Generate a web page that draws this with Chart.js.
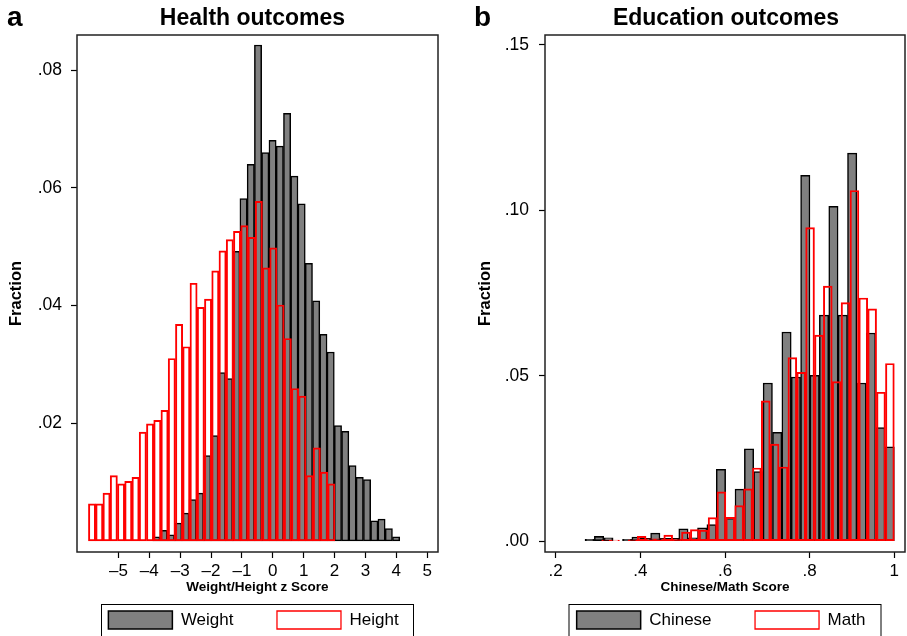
<!DOCTYPE html>
<html lang="pt-BR">
<head>
<meta charset="utf-8">
<title>Health outcomes / Education outcomes</title>
<script src="https://cdn.jsdelivr.net/npm/chart.js@4.4.1/dist/chart.umd.min.js"></script>
<style>
  html, body { margin: 0; padding: 0; background: #fff; width: 907px; height: 636px; overflow: hidden; }
  .painel { position: absolute; top: 0; height: 636px; }
  .painel canvas { display: block; }
  #painel-a { left: 0; width: 453px; }
  #painel-b { left: 453px; width: 454px; }
  .letra { position: absolute; top: 3px; font: bold 28px "Liberation Sans", Arial, sans-serif; line-height: 28px; color: #000; }
</style>
</head>
<body>
<div class="painel" id="painel-a"><canvas id="chartA"></canvas></div>
<div class="painel" id="painel-b"><canvas id="chartB"></canvas></div>
<div class="letra" style="left:7px">a</div>
<div class="letra" style="left:474px">b</div>

<script>
/* ===========================================================
   1. DADOS (centro de cada classe do histograma + fração)
   2. PLUGIN: moldura, título e legenda alinhados à área do gráfico
   3. GRÁFICO a (Health outcomes)
   4. GRÁFICO b (Education outcomes)
   =========================================================== */

/* ===== 1. DADOS ===== */
// Painel a: escore z de peso (cinza) e altura (vermelho)
const weightBins = [-3.772, -3.537, -3.301, -3.066, -2.831, -2.596, -2.360, -2.125, -1.890, -1.654,
                    -1.419, -1.184, -0.948, -0.713, -0.478, -0.243, -0.007, 0.228, 0.463, 0.699,
                    0.934, 1.169, 1.405, 1.640, 1.875, 2.111, 2.346, 2.581, 2.816, 3.052,
                    3.287, 3.522, 3.758, 3.993];
const weightFrac = [0.0007, 0.0018, 0.0010, 0.0030, 0.0047, 0.0070, 0.0081, 0.0145, 0.0179, 0.0286,
                    0.0276, 0.0492, 0.0582, 0.0640, 0.0843, 0.0660, 0.0681, 0.0671, 0.0727, 0.0620,
                    0.0573, 0.0472, 0.0408, 0.0351, 0.0321, 0.0196, 0.0186, 0.0128, 0.0108, 0.0104,
                    0.0034, 0.0037, 0.0021, 0.0007];
const heightBins = [-5.853, -5.618, -5.383, -5.148, -4.913, -4.679, -4.444, -4.209, -3.974, -3.739,
                    -3.505, -3.270, -3.035, -2.800, -2.565, -2.331, -2.096, -1.861, -1.626, -1.391,
                    -1.157, -0.922, -0.687, -0.452, -0.217, 0.017, 0.252, 0.487, 0.722, 0.957,
                    1.191, 1.426, 1.661, 1.896];
const heightFrac = [0.0063, 0.0063, 0.0081, 0.0111, 0.0097, 0.0101, 0.0108, 0.0185, 0.0199, 0.0205,
                    0.0222, 0.0310, 0.0368, 0.0330, 0.0438, 0.0397, 0.0411, 0.0459, 0.0493, 0.0512,
                    0.0526, 0.0536, 0.0516, 0.0577, 0.0464, 0.0498, 0.0401, 0.0344, 0.0259, 0.0246,
                    0.0111, 0.0158, 0.0117, 0.0097];
const zTicks = [-5, -4, -3, -2, -1, 0, 1, 2, 3, 4, 5];
const fracTicksA = [0.02, 0.04, 0.06, 0.08];

// Painel b: nota de chinês (cinza) e matemática (vermelho)
const chineseBins = [0.2803, 0.3024, 0.3246, 0.3467, 0.3689, 0.3910, 0.4132, 0.4353, 0.4575, 0.4796,
                     0.5018, 0.5239, 0.5461, 0.5682, 0.5904, 0.6125, 0.6347, 0.6568, 0.6790, 0.7011,
                     0.7233, 0.7454, 0.7676, 0.7897, 0.8119, 0.8340, 0.8562, 0.8783, 0.9005, 0.9226,
                     0.9448, 0.9669, 0.9891];
const chineseFrac = [0.0005, 0.0014, 0.0010, 0, 0.0005, 0.0012, 0.0008, 0.0024, 0.0008, 0.0008,
                     0.0037, 0.0010, 0.0040, 0.0050, 0.0217, 0.0069, 0.0157, 0.0279, 0.0210, 0.0478,
                     0.0329, 0.0632, 0.0496, 0.1106, 0.0501, 0.0683, 0.1012, 0.0683, 0.1173, 0.0478,
                     0.0629, 0.0343, 0.0285];
const mathBins = [0.3192, 0.3401, 0.3611, 0.3820, 0.4030, 0.4239, 0.4449, 0.4658, 0.4868, 0.5077,
                  0.5287, 0.5496, 0.5706, 0.5915, 0.6125, 0.6334, 0.6544, 0.6753, 0.6963, 0.7172,
                  0.7382, 0.7591, 0.7801, 0.8010, 0.8220, 0.8429, 0.8639, 0.8848, 0.9058, 0.9267,
                  0.9477, 0.9686, 0.9896];
const mathFrac = [0.0003, 0.0003, 0, 0.0004, 0.0014, 0.0007, 0.0007, 0.0018, 0.0006, 0.0027,
                  0.0035, 0.0033, 0.0071, 0.0149, 0.0072, 0.0107, 0.0158, 0.0221, 0.0424, 0.0293,
                  0.0224, 0.0555, 0.0510, 0.0948, 0.0623, 0.0771, 0.0482, 0.0721, 0.1060, 0.0735,
                  0.0702, 0.0450, 0.0537];
const scoreTicks = [0.2, 0.4, 0.6, 0.8, 1];
const fracTicksB = [0, 0.05, 0.10, 0.15];

Chart.defaults.font.family = '"Liberation Sans", Arial, Helvetica, sans-serif';
Chart.defaults.color = '#000';
Chart.defaults.animation = false;

function pares(xs, ys) {
    return xs.map((x, i) => ({ x: x, y: ys[i] }));
}
// .02 / .10 — sem o zero à esquerda, como no Stata
function fmtFrac(v) {
    return v.toFixed(2).replace(/^0/, '');
}

/* ===== 2. PLUGIN ===== */
const molduraPlugin = {
    id: 'moldura',
    afterLayout(chart, args, opts) {
        const ca = chart.chartArea;
        const dx = opts.deslocTitulo || 0;
        if (chart.titleBlock) {
            chart.titleBlock.left = ca.left + dx;
            chart.titleBlock.right = ca.right + dx;
            chart.titleBlock.width = ca.right - ca.left;
        }
        // a legenda fica dentro da caixa desenhada abaixo do eixo x
        // (largura folgada para os dois itens caberem na mesma linha)
        const lg = chart.legend;
        if (lg) {
            const pad = lg.options.labels.padding;
            lg.left = ca.left - 64;
            lg.right = ca.right + 56;
            lg.width = lg.right - lg.left;
            lg.top = ca.bottom + 59 - pad;
            lg.bottom = ca.bottom + 100;
            lg.height = lg.bottom - lg.top;
        }
    },
    afterDraw(chart) {
        const ctx = chart.ctx;
        const ca = chart.chartArea;
        const meio = (ca.left + ca.right) / 2;
        ctx.save();
        ctx.strokeStyle = '#222';
        ctx.lineWidth = 1.5;
        ctx.strokeRect(ca.left, ca.top, ca.right - ca.left, ca.bottom - ca.top);
        ctx.strokeStyle = '#000';
        ctx.lineWidth = 1;
        ctx.strokeRect(meio - 156, ca.bottom + 52.5, 312, 40);
        ctx.restore();
    }
};

// monta um painel: duas séries sobrepostas, cada uma com seu eixo x (o segundo oculto)
function histograma(canvasId, cfg) {
    const barraBase = {
        borderSkipped: false,
        barPercentage: 1,
        categoryPercentage: 1,
        grouped: false
    };
    return new Chart(document.getElementById(canvasId), {
        type: 'bar',
        data: {
            datasets: [
                Object.assign({}, barraBase, {
                    label: cfg.nomes[0],
                    data: pares(cfg.bins[0], cfg.frac[0]),
                    xAxisID: 'x', order: 2,
                    backgroundColor: '#808080', borderColor: '#000', borderWidth: 1.5
                }),
                Object.assign({}, barraBase, {
                    label: cfg.nomes[1],
                    data: pares(cfg.bins[1], cfg.frac[1]),
                    xAxisID: 'x2', order: 1,
                    backgroundColor: 'rgba(255,255,255,0)', borderColor: '#ff0000', borderWidth: 1.3
                })
            ]
        },
        options: {
            responsive: true,
            maintainAspectRatio: false,
            layout: { padding: { left: 0, right: cfg.padDireita, top: 0, bottom: 0 } },
            plugins: {
                moldura: { deslocTitulo: cfg.deslocTitulo },
                title: {
                    display: true, text: cfg.titulo,
                    font: { size: 23, weight: 'bold' },
                    padding: { top: 5.2, bottom: 2.2 }
                },
                legend: {
                    position: 'bottom',
                    maxHeight: 35,
                    labels: {
                        boxWidth: 64, boxHeight: 18, padding: 43.5,
                        font: { size: 17 }, color: '#000',
                        sort: (a, b) => a.datasetIndex - b.datasetIndex
                    }
                },
                tooltip: { enabled: false }
            },
            scales: {
                x: {
                    type: 'linear', position: 'bottom',
                    min: cfg.xMin, max: cfg.xMax, offset: false,
                    afterBuildTicks: ax => { ax.ticks = cfg.xTicks.map(v => ({ value: v })); },
                    afterFit: ax => { ax.height = 49; },
                    grid: { offset: false, drawOnChartArea: false, tickLength: 6, tickColor: '#000', tickWidth: 1.2 },
                    border: { display: false },
                    ticks: { autoSkip: false, maxRotation: 0, padding: 3, font: { size: 17 }, callback: cfg.xFmt },
                    title: {
                        display: true, text: cfg.xTitulo,
                        font: { size: 13.5, weight: 'bold' },
                        padding: { top: 0, bottom: 5.5 }
                    }
                },
                x2: {
                    type: 'linear', display: false,
                    min: cfg.xMin, max: cfg.xMax, offset: false,
                    afterBuildTicks: ax => { ax.ticks = cfg.xTicks.map(v => ({ value: v })); }
                },
                y: {
                    type: 'linear',
                    min: cfg.yMin, max: cfg.yMax,
                    afterBuildTicks: ax => { ax.ticks = cfg.yTicks.map(v => ({ value: v })); },
                    afterFit: ax => { ax.width = cfg.larguraY; },
                    grid: { drawOnChartArea: false, tickLength: 6, tickColor: '#000', tickWidth: 1.2 },
                    border: { display: false },
                    ticks: { padding: cfg.padTickY, font: { size: 17.5 }, callback: v => fmtFrac(v) },
                    title: {
                        display: true, text: 'Fraction',
                        font: { size: 16.5, weight: 'bold' },
                        padding: { top: cfg.padTituloY, bottom: 0 }
                    }
                }
            }
        },
        plugins: [molduraPlugin]
    });
}

/* ===== 3. GRÁFICO a ===== */
histograma('chartA', {
    titulo: 'Health outcomes',
    nomes: ['Weight', 'Height'],
    bins: [weightBins, heightBins],
    frac: [weightFrac, heightFrac],
    xMin: -6.34, xMax: 5.35, xTicks: zTicks,
    xFmt: v => (v < 0 ? '\u2013' + Math.abs(v) : String(v)),
    xTitulo: 'Weight/Height z Score',
    yMin: -0.0019, yMax: 0.086, yTicks: fracTicksA,
    larguraY: 77, padTickY: 9, padTituloY: 6.5, padDireita: 15, deslocTitulo: -5
});

/* ===== 4. GRÁFICO b ===== */
histograma('chartB', {
    titulo: 'Education outcomes',
    nomes: ['Chinese', 'Math'],
    bins: [chineseBins, mathBins],
    frac: [chineseFrac, mathFrac],
    xMin: 0.1747, xMax: 1.0253, xTicks: scoreTicks,
    xFmt: v => (v === 1 ? '1' : String(v).replace(/^0/, '')),
    xTitulo: 'Chinese/Math Score',
    yMin: -0.0033, yMax: 0.153, yTicks: fracTicksB,
    larguraY: 92, padTickY: 10, padTituloY: 22.5, padDireita: 2, deslocTitulo: 1
});
</script>
</body>
</html>
